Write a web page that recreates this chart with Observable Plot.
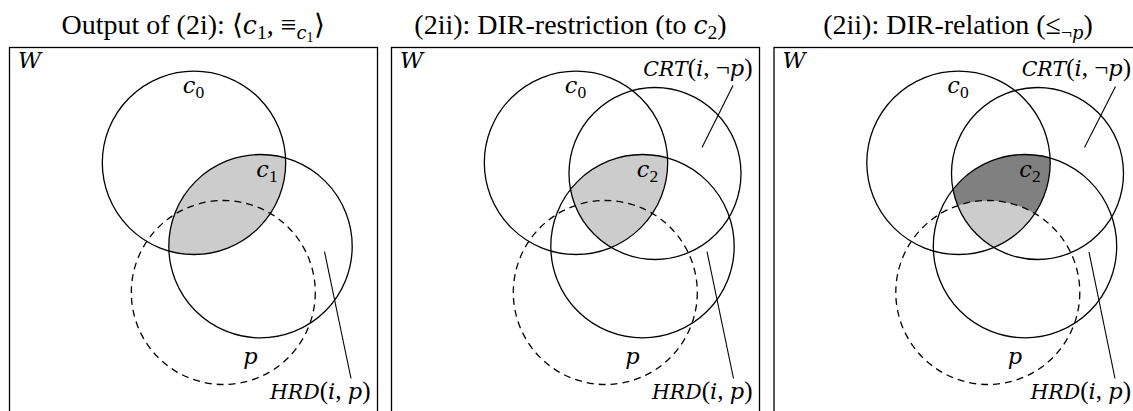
<!DOCTYPE html>
<html><head><meta charset="utf-8">
<script src="https://cdn.jsdelivr.net/npm/d3@7"></script>
<script src="https://cdn.jsdelivr.net/npm/@observablehq/plot@0.6"></script>
<style>
html,body{margin:0;padding:0;background:#fff;overflow:hidden;}
#chart svg{display:block;overflow:hidden !important;}
</style>
</head><body><div id="chart"></div>
<script>
// ---- panels (diagram units = pixels of the figure) ----
const panelIds = [0, 1, 2];
const panelLeft = [9.5, 391.5, 774];
const boxWidth = 368;
const boxTop = 47.5;
const boxBottom = 430;

// ---- sets (circles), relative to each box's left edge ----
const circleName = ["c0", "CRT", "HRD", "p"];
const circleCx = [184, 263, 250.5, 213.3];
const circleCy = [162.3, 173, 245.7, 292];
const circleR = [91.7, 86, 91.7, 92];
const circleDashed = [false, false, false, true];
const panelCircles = [["c0", "HRD", "p"], ["c0", "CRT", "HRD", "p"], ["c0", "CRT", "HRD", "p"]];

// ---- shaded regions: intersection of listed sets ----
const regionPanel = [0, 1, 2, 2];
const regionTone = ["light", "light", "dark", "light"];
const regionSets = [["c0", "HRD"], ["c0", "CRT", "HRD"], ["c0", "CRT", "HRD"], ["c0", "CRT", "HRD", "p"]];
const toneColor = {light: "#cccccc", dark: "#808080"};

// ---- titles ----
const titleSegs = [
  [["Output of (2i): ⟨", ""], ["c", "i"], ["1", "s"], [", ≡", ""], ["c", "si"], ["1", "ss"], ["⟩", ""]],
  [["(2ii): DIR-restriction (to ", ""], ["c", "i"], ["2", "s"], [")", ""]],
  [["(2ii): DIR-relation (≤", ""], ["¬", "s"], ["p", "si"], [")", ""]]
];
const titleCx = [183, 178.5, 183.5];
const titleBase = 33;

// ---- labels ----
const labelSegs = [
  [["W", "i"]], [["W", "i"]], [["W", "i"]],
  [["c", "i"], ["0", "s"]], [["c", "i"], ["0", "s"]], [["c", "i"], ["0", "s"]],
  [["c", "i"], ["1", "s"]], [["c", "i"], ["2", "s"]], [["c", "i"], ["2", "s"]],
  [["p", "i"]], [["p", "i"]], [["p", "i"]],
  [["HRD", "sc"], ["(", ""], ["i", "i"], [", ", ""], ["p", "i"], [")", ""]],
  [["HRD", "sc"], ["(", ""], ["i", "i"], [", ", ""], ["p", "i"], [")", ""]],
  [["HRD", "sc"], ["(", ""], ["i", "i"], [", ", ""], ["p", "i"], [")", ""]],
  [["CRT", "sc"], ["(", ""], ["i", "i"], [", ¬", ""], ["p", "i"], [")", ""]],
  [["CRT", "sc"], ["(", ""], ["i", "i"], [", ¬", ""], ["p", "i"], [")", ""]]
];
const labelPanelAll = [0,1,2, 0,1,2, 0,1,2, 0,1,2, 0,1,2, 1,2];
const labelX = [8,8,8, 183.5,183.5,183.5, 257,255.5,255.5, 240.5,240.5,240.5, 360.5,360.5,356.5, 360.5,356.5];
const labelY = [67,67,67, 92,92,92, 176,176,176, 363,363,363, 398,398,398, 75,75];
const labelAnchor = ["start","start","start","middle","middle","middle","middle","middle","middle","middle","middle","middle","end","end","end","end","end"];

// ---- leader lines ----
const leaderPanel = [0, 1, 2, 1, 2];
const leaderX1 = [314.5, 315, 314.5, 341, 341];
const leaderY1 = [251, 251, 251.5, 85, 86];
const leaderX2 = [341, 341.5, 340.5, 310, 310];
const leaderY2 = [378, 378, 378, 147, 147];

// ---------- build tables ----------
const plain = segs => segs.map(s => s[0]).join("");
const circles = panelIds.flatMap(p => panelCircles[p].map(name => {
  const k = circleName.indexOf(name);
  return {key: p + "|" + name, panel: p, x: panelLeft[p] + circleCx[k], y: circleCy[k], r: circleR[k], dashed: circleDashed[k]};
}));
const solid = circles.filter(c => !c.dashed);
const dashed = circles.filter(c => c.dashed);
const regions = regionPanel.map((p, i) => {
  const k = circleName.indexOf(regionSets[i][0]);
  return {panel: p, x: panelLeft[p] + circleCx[k], y: circleCy[k], r: circleR[k],
          fill: toneColor[regionTone[i]], clips: regionSets[i].slice(1).map(n => p + "|" + n)};
});
const boxes = panelIds.map(p => ({x1: panelLeft[p], x2: panelLeft[p] + boxWidth, y1: boxTop, y2: boxBottom}));
const titles = panelIds.map(p => ({x: panelLeft[p] + titleCx[p], y: titleBase, text: plain(titleSegs[p])}));
const labels = labelSegs.map((segs, i) => ({x: panelLeft[labelPanelAll[i]] + labelX[i], y: labelY[i], text: plain(segs), anchor: labelAnchor[i]}));
const leaders = leaderPanel.map((p, i) => ({x1: panelLeft[p] + leaderX1[i], y1: leaderY1[i], x2: panelLeft[p] + leaderX2[i], y2: leaderY2[i]}));

const FONT = "Liberation Serif";
const ITALIC_FONT = "DejaVu Serif";
const TITLE_FS = 28, LABEL_FS = 25;
const lw = 1.3;

const textMarks = ["start", "middle", "end"].map(a =>
  Plot.text(labels.filter(l => l.anchor === a), {x: "x", y: "y", text: "text", textAnchor: a, lineAnchor: "bottom",
    fontSize: LABEL_FS, fontFamily: FONT, fill: "black", className: "lbl"}));

const chart = Plot.plot({
  width: 1133, height: 411,
  margin: 0,
  x: {domain: [0, 1133], range: [0, 1133], axis: null},
  y: {domain: [0, 411], range: [0, 411], axis: null},
  r: {type: "linear", domain: [0, 100], range: [0, 100]},
  color: {type: "identity"},
  style: {background: "white"},
  marks: [
    Plot.dot(regions, {x: "x", y: "y", r: "r", fill: "fill", stroke: null, sort: null, className: "region"}),
    Plot.dot(solid, {x: "x", y: "y", r: "r", stroke: "black", strokeWidth: lw, fill: "none", sort: null, className: "solid"}),
    Plot.dot(dashed, {x: "x", y: "y", r: "r", stroke: "black", strokeWidth: lw, fill: "none", strokeDasharray: "7,5", sort: null, className: "dashed"}),
    Plot.rect(boxes, {x1: "x1", x2: "x2", y1: "y1", y2: "y2", stroke: "black", strokeWidth: lw, fill: "none"}),
    Plot.link(leaders, {x1: "x1", y1: "y1", x2: "x2", y2: "y2", stroke: "black", strokeWidth: 1.1}),
    Plot.text(titles, {x: "x", y: "y", text: "text", textAnchor: "middle", lineAnchor: "bottom",
      fontSize: TITLE_FS, fontFamily: FONT, fill: "black", className: "ttl"}),
    ...textMarks
  ]
});
document.getElementById("chart").appendChild(chart);

// ---------- clip shaded regions to intersections ----------
const svg = d3.select(chart.tagName.toLowerCase() === "svg" ? chart : chart.querySelector("svg"));
const outlineEl = new Map();
svg.selectAll("g.solid circle").each(function(_, i) { outlineEl.set(solid[i].key, this); });
svg.selectAll("g.dashed circle").each(function(_, i) { outlineEl.set(dashed[i].key, this); });
const defs = svg.insert("defs", ":first-child");
let cid = 0;
svg.selectAll("g.region circle").each(function(_, i) {
  let node = this;
  for (const key of regions[i].clips) {
    const id = "clip-" + (cid++);
    const src = outlineEl.get(key).cloneNode(true);
    src.removeAttribute("stroke"); src.removeAttribute("stroke-dasharray");
    defs.append("clipPath").attr("id", id).node().appendChild(src);
    const g = document.createElementNS("http://www.w3.org/2000/svg", "g");
    g.setAttribute("clip-path", `url(#${id})`);
    node.parentNode.insertBefore(g, node);
    g.appendChild(node);
    node = g;
  }
});

// ---------- rich text (italic math, subscripts) ----------
const styleSpec = {
  "":  {size: 1, italic: false, shift: 0},
  i:   {size: 0.9, italic: true, shift: 0},
  s:   {size: 0.7, italic: false, shift: 0.2},
  si:  {size: 0.64, italic: true, shift: 0.2},
  ss:  {size: 0.5, italic: false, shift: 0.32},
  sc:  {size: 0.82, italic: true, shift: 0}
};
const segMap = new Map();
titleSegs.forEach(s => segMap.set(plain(s), s));
labelSegs.forEach(s => segMap.set(plain(s), s));
function rich(sel, fs) {
  sel.each(function() {
    const segs = segMap.get(this.textContent);
    if (!segs) return;
    const t = d3.select(this);
    t.text(null);
    let cur = 0;
    for (const [s, st] of segs) {
      const sp = styleSpec[st];
      const shift = sp.shift * fs;
      const ts = t.append("tspan")
        .attr("font-size", sp.size * fs)
        .attr("font-style", sp.italic ? "italic" : "normal")
        .attr("dy", shift - cur)
        .text(s);
      if (sp.italic) ts.attr("font-family", ITALIC_FONT);
      cur = shift;
    }
  });
}
rich(svg.selectAll("g.ttl text"), TITLE_FS);
rich(svg.selectAll("g.lbl text"), LABEL_FS);
</script>
</body></html>
